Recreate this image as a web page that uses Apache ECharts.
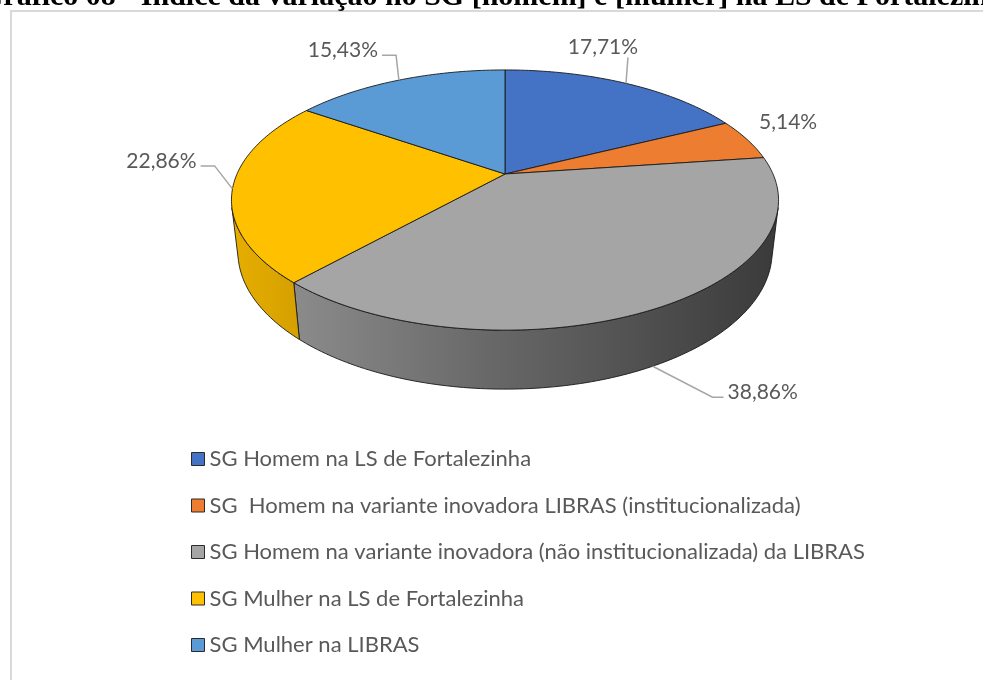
<!DOCTYPE html>
<html>
<head>
<meta charset="utf-8">
<script src="https://cdn.jsdelivr.net/npm/echarts@6/dist/echarts.min.js"></script>
<style>
  html, body { margin: 0; padding: 0; background: #ffffff; }
  #chart { width: 983px; height: 680px; }
</style>
</head>
<body>
<div id="chart"></div>
<script>
// ---- data ----
const chartTitle = 'Gráfico 08 - Índice da variação no SG [homem] e [mulher] na LS de Fortalezinha';
const categories = [
  'SG Homem na LS de Fortalezinha',
  'SG  Homem na variante inovadora LIBRAS (institucionalizada)',
  'SG Homem na variante inovadora (não institucionalizada) da LIBRAS',
  'SG Mulher na LS de Fortalezinha',
  'SG Mulher na LIBRAS'
];
const shares = [17.71, 5.14, 38.86, 22.86, 15.43];
const sliceColors = ['#4472C4', '#ED7D31', '#A5A5A5', '#FFC000', '#5B9BD5'];

// ---- 3D pie geometry (tilted disc seen in perspective) ----
const CX = 505, CY = 174;      // projected disc centre
const K = 268;                 // disc radius in pixels
const SIN_E = 0.466;           // sine of viewing elevation
const COS_E = Math.sqrt(1 - SIN_E * SIN_E);
const PERSP = 4.42;            // camera distance (disc radii)
const DEPTH = 0.22;            // slab thickness (disc radii)
// label placement relative to each slice's anchor point
const labelOffsets = [[-23, -36], [41, -17], [110, 26], [-71, -28], [-56, -30]];

const LABEL_FONT = '21px Lato';
const EDGE = 'rgba(25,25,25,0.9)';

function project(deg, z) {
  const t = deg * Math.PI / 180;
  const x = Math.sin(t), y = Math.cos(t);
  const v = y * SIN_E + z * COS_E;
  const w = y * COS_E - z * SIN_E;
  const f = 1 / (1 + w / PERSP);
  return [CX + K * x * f, CY - K * v * f];
}
function arc(a0, a1, z) {
  const pts = [];
  const n = Math.max(2, Math.ceil(Math.abs(a1 - a0)));
  for (let j = 0; j <= n; j++) pts.push(project(a0 + (a1 - a0) * j / n, z));
  return pts;
}
// front arc of the rim visible from the camera
const camDist = PERSP * COS_E;
const visA = Math.acos(-1 / camDist) * 180 / Math.PI;

const total = shares.reduce((s, v) => s + v, 0);
const starts = [], ends = [];
shares.reduce((acc, v, i) => { starts[i] = acc / total * 360; ends[i] = (acc + v) / total * 360; return acc + v; }, 0);

function fmtPct(v) { return v.toFixed(2).replace('.', ',') + '%'; }
function shade(hex, k) {
  const n = parseInt(hex.slice(1), 16);
  const r = Math.round(((n >> 16) & 255) * k), g = Math.round(((n >> 8) & 255) * k), b = Math.round((n & 255) * k);
  return 'rgb(' + r + ',' + g + ',' + b + ')';
}
const measureCtx = document.createElement('canvas').getContext('2d');
function textWidth(s) { measureCtx.font = LABEL_FONT; return measureCtx.measureText(s).width; }

function renderSlice(i) {
  return function () {
    const a0 = starts[i], a1 = ends[i];
    const children = [];
    // outer wall
    const lo = Math.max(a0, visA), hi = Math.min(a1, 360 - visA);
    if (hi > lo) {
      const pts = arc(lo, hi, 0).concat(arc(hi, lo, -DEPTH));
      children.push({
        type: 'polygon', z2: 1,
        shape: { points: pts },
        style: {
          fill: new echarts.graphic.LinearGradient(CX - K, 0, CX + K, 0, [
            { offset: 0, color: shade(sliceColors[i], 0.9) },
            { offset: 0.45, color: shade(sliceColors[i], 0.64) },
            { offset: 1, color: shade(sliceColors[i], 0.36) }
          ], true),
          stroke: EDGE, lineWidth: 1
        }
      });
    }
    // top face
    children.push({
      type: 'polygon', z2: 5,
      shape: { points: [[CX, CY]].concat(arc(a0, a1, 0)) },
      style: { fill: sliceColors[i], stroke: EDGE, lineWidth: 1 }
    });
    // value label with leader line
    const mid = (a0 + a1) / 2;
    const front = mid > visA && mid < 360 - visA;
    const anchor = project(mid, front ? -DEPTH : 0);
    const lx = anchor[0] + labelOffsets[i][0], ly = anchor[1] + labelOffsets[i][1];
    const txt = fmtPct(shares[i]);
    const tw = textWidth(txt), th = 18;
    const left = lx - tw / 2, right = lx + tw / 2, top = ly - th / 2, bottom = ly + th / 2;
    const ddx = Math.max(0, left - anchor[0], anchor[0] - right);
    const ddy = Math.max(0, top - anchor[1], anchor[1] - bottom);
    if (Math.hypot(ddx, ddy) > 18) {
      let pts;
      if (anchor[0] > right + 8) pts = [[right + 4, ly + 5], [right + 18, ly + 5], anchor];
      else if (anchor[0] < left - 8) pts = [[left - 4, ly + 5], [left - 15, ly + 5], anchor];
      else pts = [[anchor[0] + 2, bottom + 1], anchor];
      children.push({
        type: 'polyline', z2: 8,
        shape: { points: pts },
        style: { stroke: '#a6a6a6', lineWidth: 1.5, fill: null }
      });
    }
    children.push({
      type: 'text', z2: 10,
      style: { text: txt, x: lx, y: ly, align: 'center', verticalAlign: 'middle', font: LABEL_FONT, fill: '#595959' }
    });
    return { type: 'group', children: children };
  };
}

const chart = echarts.init(document.getElementById('chart'), null, { renderer: 'canvas' });
chart.setOption({
  animation: false,
  backgroundColor: '#ffffff',
  graphic: [
    {
      type: 'text', z: 10,
      style: { text: chartTitle, x: -20, y: -3, align: 'left', verticalAlign: 'middle',
               font: 'bold 30px "Liberation Serif"', fill: '#000000' }
    },
    {
      type: 'rect', z: 0,
      shape: { x: 11, y: 11, width: 1100, height: 800 },
      style: { fill: null, stroke: '#d9d9d9', lineWidth: 2 }
    }
  ],
  legend: {
    orient: 'vertical', left: 191, top: 447, padding: 0,
    itemWidth: 13, itemHeight: 13, itemGap: 22.5,
    icon: 'rect', selectedMode: false,
    itemStyle: { borderColor: '#2b2b2b', borderWidth: 1 },
    textStyle: { color: '#595959', fontFamily: 'Lato', fontSize: 22, lineHeight: 24 },
    data: categories
  },
  series: categories.map((name, i) => ({
    type: 'custom',
    name: name,
    coordinateSystem: 'none',
    itemStyle: { color: sliceColors[i] },
    renderItem: renderSlice(i),
    data: [[shares[i]]],
    silent: true
  }))
});
</script>
</body>
</html>
